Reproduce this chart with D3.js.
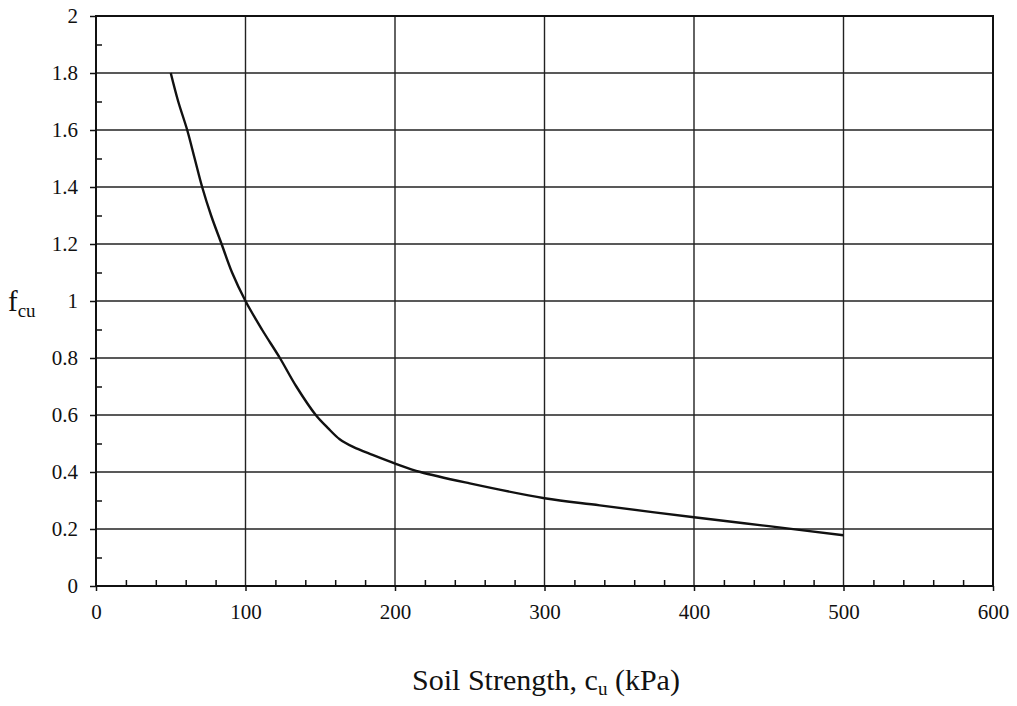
<!DOCTYPE html>
<html>
<meta charset="utf-8">
<style>
  body { margin: 0; background: #fff; }
  text { font-family: "Liberation Serif", "Times New Roman", serif; fill: #111; }
  .grid line { stroke: #222; stroke-width: 1.4; }
</style>
<body>
<script src="https://d3js.org/d3.v7.min.js"></script>
<script>
  // values
  let soilStrength = [50, 55, 61, 66, 71, 77, 84, 91, 100, 111, 123, 134, 147, 155, 163, 172, 185, 201, 217, 250, 300, 337, 400, 450, 500];
  let fcu = [1.8, 1.7, 1.6, 1.5, 1.4, 1.3, 1.2, 1.1, 1.0, 0.9, 0.8, 0.7, 0.6, 0.555, 0.515, 0.488, 0.46, 0.428, 0.4, 0.36, 0.308, 0.283, 0.241, 0.21, 0.178];
  let xTicks = [0, 100, 200, 300, 400, 500, 600];
  let yTicks = [0, 0.2, 0.4, 0.6, 0.8, 1, 1.2, 1.4, 1.6, 1.8, 2];

  let margin = {top: 16, left: 96, right: 1017 - 993, bottom: 706 - 586};
  let width = 1017, height = 706;

  const svg = d3.select("body").append("svg")
      .attr("width", width).attr("height", height);

  let x = d3.scaleLinear().domain([0, 600]).range([margin.left, width - margin.right]);
  let y = d3.scaleLinear().domain([0, 2]).range([height - margin.bottom, margin.top]);

  // grid lines
  const grid = svg.append("g").attr("class", "grid");
  grid.selectAll(".v").data(xTicks).enter().append("line")
      .attr("x1", d => x(d)).attr("x2", d => x(d))
      .attr("y1", y(0)).attr("y2", y(2));
  grid.selectAll(".h").data(yTicks).enter().append("line")
      .attr("x1", x(0)).attr("x2", x(600))
      .attr("y1", d => y(d)).attr("y2", d => y(d));

  // frame
  svg.append("rect")
      .attr("x", x(0)).attr("y", y(2))
      .attr("width", x(600) - x(0)).attr("height", y(0) - y(2))
      .attr("fill", "none").attr("stroke", "#111").attr("stroke-width", 2);

  // x axis: major ticks out, minor ticks in
  const xAxis = svg.append("g").attr("transform", `translate(0,${y(0)})`)
      .call(d3.axisBottom(x).tickValues(xTicks).tickSize(5).tickPadding(13).tickFormat(d3.format("d")));
  xAxis.attr("font-size", null).attr("font-family", null);
  xAxis.select(".domain").remove();
  xAxis.selectAll("line").attr("stroke", "#111").attr("stroke-width", 1.5);
  xAxis.selectAll("text").style("font-size", "21px");

  const xMinor = svg.append("g").attr("transform", `translate(0,${y(0)})`)
      .call(d3.axisBottom(x).tickValues(d3.range(20, 600, 20).filter(d => d % 100 !== 0)).tickSize(-6).tickFormat(""));
  xMinor.select(".domain").remove();
  xMinor.selectAll("line").attr("stroke", "#111").attr("stroke-width", 1.5);

  // y axis
  const yAxis = svg.append("g").attr("transform", `translate(${x(0)},0)`)
      .call(d3.axisLeft(y).tickValues(yTicks).tickSize(6).tickPadding(12).tickFormat(d3.format("")));
  yAxis.attr("font-size", null).attr("font-family", null);
  yAxis.select(".domain").remove();
  yAxis.selectAll("line").attr("stroke", "#111").attr("stroke-width", 1.5);
  yAxis.selectAll("text").style("font-size", "21px");

  const yMinor = svg.append("g").attr("transform", `translate(${x(0)},0)`)
      .call(d3.axisLeft(y).tickValues(d3.range(0.1, 2, 0.2)).tickSize(-6).tickFormat(""));
  yMinor.select(".domain").remove();
  yMinor.selectAll("line").attr("stroke", "#111").attr("stroke-width", 1.5);

  // curve
  let pts = soilStrength.map((c, i) => [c, fcu[i]]);
  let line = d3.line().x(d => x(d[0])).y(d => y(d[1])).curve(d3.curveCatmullRom.alpha(0.5));
  svg.append("path").datum(pts)
      .attr("d", line)
      .attr("fill", "none").attr("stroke", "#111").attr("stroke-width", 2.4);

  // axis titles
  const yl = svg.append("text").attr("x", 8).attr("y", 311).style("font-size", "29px");
  yl.append("tspan").text("f");
  yl.append("tspan").style("font-size", "19px").attr("dy", 6).text("cu");

  const xl = svg.append("text").attr("x", 546).attr("y", 690)
      .attr("text-anchor", "middle").style("font-size", "30px");
  xl.append("tspan").text("Soil Strength, c");
  xl.append("tspan").style("font-size", "19px").attr("dy", 5).text("u");
  xl.append("tspan").attr("dy", -5).text(" (kPa)");
</script>
</body>
</html>
